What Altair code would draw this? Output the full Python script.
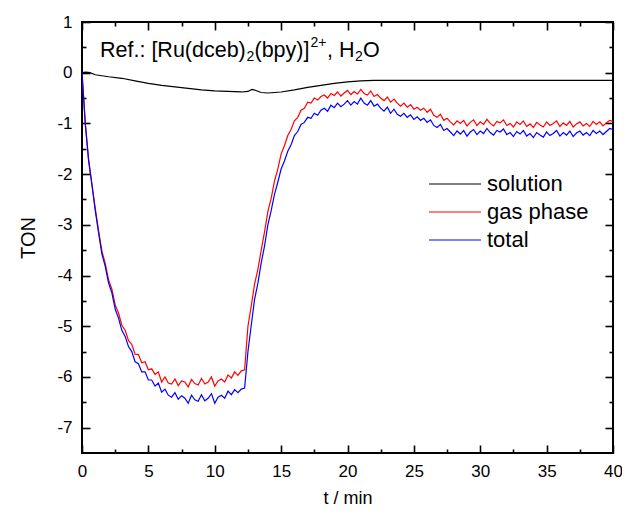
import altair as alt
import pandas as pd

# ---------------- data ----------------
# gas phase / total: sampled every 0.25 min from 0 to 40 min
step = 0.25
gas_phase = [
    # 0 .. 5.25 min
    0.0, -1.0, -1.72, -2.2, -2.68, -3.12, -3.52, -3.76, -4.08, -4.27,
    -4.58, -4.74, -4.98, -5.08, -5.28, -5.36, -5.55, -5.56, -5.72, -5.7,
    -5.86, -5.84,
    # 5.5 .. 12.25 min
    -5.95, -5.9, -6.1, -6.0, -6.12, -6.14, -6.04, -6.17, -6.08, -6.1,
    -6.2, -6.05, -6.13, -6.16, -6.03, -6.14, -6.1, -6.0, -6.18, -6.08,
    -6.04, -6.1, -5.96, -6.02, -5.9, -5.97, -5.88, -5.86,
    # 12.5 .. 16.75 min
    -5.0, -4.6, -4.17, -3.88, -3.5, -3.14, -2.74, -2.48, -2.14, -1.9,
    -1.6, -1.44, -1.24, -1.12, -0.95, -0.88, -0.74, -0.7,
    # 17 .. 40 min
    -0.58, -0.6, -0.5, -0.54, -0.47, -0.44, -0.5, -0.41, -0.45, -0.38,
    -0.46, -0.4, -0.35, -0.43, -0.37, -0.42, -0.33, -0.41, -0.44, -0.36,
    -0.47, -0.43, -0.5, -0.55, -0.48, -0.58, -0.52, -0.6, -0.66, -0.6,
    -0.68, -0.63, -0.72, -0.68, -0.74, -0.7, -0.78, -0.72, -0.84, -0.88,
    -0.82, -0.94, -0.9, -0.97, -1.03, -0.95, -1.0, -0.94, -1.05, -0.98,
    -0.93, -1.04, -0.97, -1.02, -0.92, -1.0, -1.05, -0.96, -0.99, -0.93,
    -1.04, -1.0, -1.07, -0.97, -1.02, -0.95, -1.06, -1.01, -1.08, -0.98,
    -1.03, -1.07, -0.97, -1.04, -1.0, -0.95, -1.06, -0.99, -1.04, -0.96,
    -1.07, -1.01, -0.97, -1.05, -1.0, -1.06, -0.96, -1.02, -0.97, -1.05,
    -0.99, -0.94, -0.96,
]
total = [
    # 0 .. 5.25 min
    0.0, -1.02, -1.74, -2.22, -2.72, -3.16, -3.58, -3.82, -4.15, -4.34,
    -4.66, -4.84, -5.08, -5.2, -5.4, -5.5, -5.7, -5.74, -5.9, -5.9,
    -6.06, -6.06,
    # 5.5 .. 12.25 min
    -6.18, -6.12, -6.3, -6.24, -6.36, -6.4, -6.31, -6.44, -6.37, -6.42,
    -6.52, -6.36, -6.45, -6.48, -6.35, -6.47, -6.42, -6.33, -6.52, -6.4,
    -6.36, -6.42, -6.28, -6.35, -6.25, -6.31, -6.24, -6.22,
    # 12.5 .. 16.75 min
    -5.5, -4.98, -4.47, -4.15, -3.75, -3.42, -3.0, -2.72, -2.4, -2.16,
    -1.9, -1.74, -1.55, -1.42, -1.24, -1.16, -1.02, -0.98,
    # 17 .. 40 min
    -0.88, -0.9, -0.8, -0.84, -0.74, -0.7, -0.76, -0.64, -0.69, -0.6,
    -0.67, -0.62, -0.55, -0.64, -0.57, -0.62, -0.5, -0.6, -0.64, -0.55,
    -0.66, -0.62, -0.7, -0.76, -0.68, -0.8, -0.72, -0.82, -0.86, -0.8,
    -0.88, -0.83, -0.92, -0.87, -0.94, -0.9, -0.98, -0.93, -1.04, -1.08,
    -1.02, -1.14, -1.1, -1.17, -1.24, -1.15, -1.21, -1.14, -1.25, -1.17,
    -1.12, -1.22, -1.15, -1.2, -1.1, -1.18, -1.23, -1.14, -1.17, -1.11,
    -1.22, -1.18, -1.26, -1.16, -1.21, -1.14, -1.25, -1.2, -1.28, -1.18,
    -1.23, -1.27, -1.17, -1.24, -1.2, -1.14, -1.25, -1.18, -1.23, -1.15,
    -1.26, -1.19, -1.15, -1.23, -1.18, -1.24, -1.14, -1.2, -1.15, -1.22,
    -1.16, -1.1, -1.12,
]
solution_t = [0, 0.3, 0.6, 1, 2, 3, 4, 5, 6, 7, 8, 9, 10, 11, 12, 12.5, 12.8,
              13.1, 13.5, 14, 15, 16, 17, 18, 19, 20, 21, 22, 23, 24, 25, 27,
              30, 33, 36, 40]
solution = [0.0, 0.01, 0.0, -0.04, -0.08, -0.11, -0.16, -0.21, -0.25, -0.28,
            -0.31, -0.34, -0.36, -0.37, -0.38, -0.37, -0.33, -0.35, -0.39, -0.4,
            -0.38, -0.34, -0.29, -0.25, -0.21, -0.18, -0.16, -0.15, -0.15,
            -0.15, -0.15, -0.15, -0.15, -0.15, -0.15, -0.15]

series_names = ["solution", "gas phase", "total"]
series_colors = ["#000000", "#ff0000", "#0000ff"]

x_major = [0, 5, 10, 15, 20, 25, 30, 35, 40]
x_minor = [2.5, 7.5, 12.5, 17.5, 22.5, 27.5, 32.5, 37.5]
y_major = [-7, -6, -5, -4, -3, -2, -1, 0, 1]
y_minor = [-6.5, -5.5, -4.5, -3.5, -2.5, -1.5, -0.5, 0.5]

title_pieces = ["Ref.: [Ru(dceb)", "2", "(bpy)]", "2+", ", H", "2", "O"]

# ---------------- frames ----------------
t_grid = [i * step for i in range(len(gas_phase))]
rows = []
for t, v in zip(solution_t, solution):
    rows.append({"t": t, "v": v, "series": "solution"})
for t, v in zip(t_grid, gas_phase):
    rows.append({"t": t, "v": v, "series": "gas phase"})
for t, v in zip(t_grid, total):
    rows.append({"t": t, "v": v, "series": "total"})
df = pd.DataFrame(rows)
anchor = pd.DataFrame({"t": [0.0], "v": [0.0]})

FONT = "Liberation Sans"
W, H = 531, 431
xscale = alt.Scale(domain=[0, 40], nice=False, zero=False)
yscale = alt.Scale(domain=[-7.5, 1], nice=False, zero=False)

lines = alt.Chart(df).mark_line(strokeWidth=1.2, clip=True).encode(
    x=alt.X("t:Q", scale=xscale,
            axis=alt.Axis(orient="bottom", values=x_major, ticks=False, domain=False,
                          labelFontSize=17, labelPadding=10, labelFlush=False,
                          labelExpr="'' + datum.value",
                          title="t / min", titleFontSize=18, titlePadding=10)),
    y=alt.Y("v:Q", scale=yscale,
            axis=alt.Axis(orient="left", values=y_major, ticks=False, domain=False,
                          labelFontSize=17, labelPadding=10, labelFlush=False,
                          labelExpr="'' + datum.value",
                          title="TON", titleFontSize=20, titlePadding=18)),
    color=alt.Color("series:N",
                    scale=alt.Scale(domain=series_names, range=series_colors),
                    sort=series_names,
                    legend=alt.Legend(orient="none", legendX=362, legendY=151, title=None,
                                      symbolType="M-5.2,0H5.2", symbolSize=100,
                                      symbolStrokeWidth=1.2, labelFontSize=22,
                                      labelFont=FONT, labelOffset=21, rowPadding=6,
                                      padding=0)),
    order=alt.Order("t:Q"),
)


def tick_layer(xorient, yorient, xvals, yvals, size):
    return alt.Chart(anchor).mark_point(opacity=0).encode(
        x=alt.X("t:Q", scale=xscale,
                axis=alt.Axis(orient=xorient, values=xvals, labels=False, domain=False,
                              ticks=True, tickSize=size, offset=-size, title="",
                              tickWidth=1.6, tickColor="black")),
        y=alt.Y("v:Q", scale=yscale,
                axis=alt.Axis(orient=yorient, values=yvals, labels=False, domain=False,
                              ticks=True, tickSize=size, offset=-size, title="",
                              tickWidth=1.6, tickColor="black")),
    )


t1 = tick_layer("bottom", "left", x_major, y_major, 8)
t2 = tick_layer("bottom", "left", x_minor, y_minor, 4)
t3 = tick_layer("top", "right", x_major, y_major, 8)
t4 = tick_layer("top", "right", x_minor, y_minor, 4)

# title annotation pieces (pixel placement within the plot area)
tdf = pd.DataFrame({
    "txt": title_pieces,
    "px": [18, 164.5, 172.5, 228.5, 245, 273, 281],
    "py": [34.7, 39, 34.7, 25.3, 34.7, 39, 34.7],
    "fs": [21.5, 14, 21.5, 14, 21.5, 14, 21.5],
})
ann = alt.Chart(tdf).mark_text(align="left", baseline="alphabetic", font=FONT,
                               color="black").encode(
    x=alt.X("px:Q", scale=None),
    y=alt.Y("py:Q", scale=None),
    text="txt:N",
    size=alt.Size("fs:Q", scale=None),
)

chart = alt.layer(lines, t1, t2, t3, t4, ann).resolve_axis(
    x="independent", y="independent"
).properties(
    width=W, height=H,
    autosize=alt.AutoSizeParams(type="none"),
    padding={"left": 74, "top": 14, "right": 9, "bottom": 54},
).configure_view(
    stroke="black", strokeWidth=2
).configure_axis(
    grid=False, labelFont=FONT, titleFont=FONT, labelColor="black",
    titleColor="black", titleFontWeight="normal",
)

chart.save("out.html", embed_options={"renderer": "svg", "actions": False})
